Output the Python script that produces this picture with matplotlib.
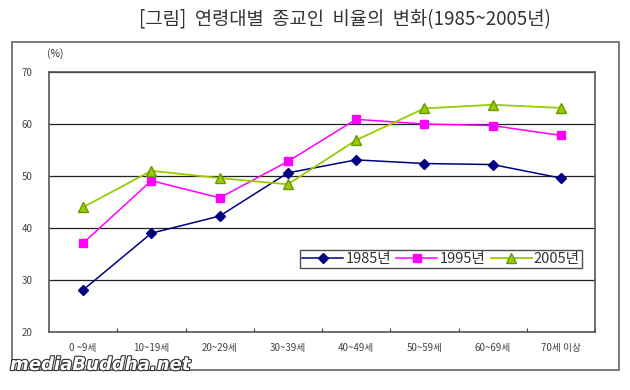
import numpy as np
import matplotlib.pyplot as plt
import matplotlib.patheffects as pe
from matplotlib.patches import Rectangle

plt.rcParams['font.family'] = ['Noto Sans CJK KR', 'DejaVu Sans']

# data
categories = ["0 ~9세", "10~19세", "20~29세", "30~39세", "40~49세", "50~59세", "60~69세", "70세 이상"]
y1985 = [28.1, 39.0, 42.3, 50.6, 53.1, 52.4, 52.2, 49.6]
y1995 = [37.1, 49.1, 45.8, 52.8, 60.9, 60.0, 59.7, 57.8]
y2005 = [44.0, 51.0, 49.6, 48.4, 56.9, 63.0, 63.7, 63.1]
series_labels = ["1985년", "1995년", "2005년"]
title = "[그림]  연령대별  종교인  비율의  변화(1985~2005년)"

W, H = 630, 390
fig = plt.figure(figsize=(W / 100, H / 100), dpi=100)

def fx(px):
    return px / W

def fy(py):
    return 1 - py / H

# outer chart frame
fig.patches.append(Rectangle((fx(12), fy(370)), fx(619) - fx(12), fy(42) - fy(370),
                             transform=fig.transFigure, fill=False,
                             edgecolor="#707070", linewidth=1.3))

fig.text(fx(345), fy(20), title, ha="center", va="center", fontsize=13.5, color="#333333")
fig.text(fx(55), fy(54), "(%)", ha="center", va="center", fontsize=7.5, color="#333333")

ax = fig.add_axes([fx(49), fy(332), fx(595) - fx(49), fy(72) - fy(332)])
x = np.arange(len(categories))

ax.plot(x, y1985, color="#000080", marker="D", markersize=5, linewidth=1.1,
        label=series_labels[0])
ax.plot(x, y1995, color="#ff00ff", marker="s", markersize=6.3, linewidth=1.1,
        label=series_labels[1])
ax.plot(x, y2005, color="#99cc00", marker="^", markersize=7.5, markeredgecolor="#669900",
        markerfacecolor="#99cc00", linewidth=1.3, label=series_labels[2])

ax.set_xlim(-0.5, len(categories) - 0.5)
ax.set_ylim(20, 70)
ax.set_yticks(range(20, 71, 10))
ax.yaxis.grid(True, color="#222222", linewidth=0.9)
ax.set_axisbelow(True)

ax.set_xticks(np.arange(len(categories)) + 0.5, minor=False)
ax.set_xticklabels([])
ax.set_xticks(x, minor=True)
ax.set_xticklabels(categories, minor=True)
ax.tick_params(axis="x", which="major", direction="in", length=3, color="#444444")
ax.tick_params(axis="x", which="minor", length=0, pad=8, labelsize=7, labelcolor="#444444")
ax.tick_params(axis="y", length=0, pad=12, labelsize=7, labelcolor="#444444")

for s in ax.spines.values():
    s.set_color("#555555")
    s.set_linewidth(1.2)

leg = ax.legend(loc="lower left", bbox_to_anchor=(0.46, 0.245, 0.516, 0.09), mode="expand",
                ncol=3, fontsize=10.5, frameon=True, fancybox=False, borderpad=0.15,
                handlelength=2.8, handletextpad=0.15, columnspacing=0.5, borderaxespad=0)
leg.get_frame().set_edgecolor("#222222")
leg.get_frame().set_linewidth(1.0)
for t in leg.get_texts():
    t.set_color("#333333")

# watermark
fig.text(fx(10), fy(365), "mediaBuddha.net", ha="left", va="center", fontsize=13,
         fontstyle="italic", fontweight="bold", color="white", family="DejaVu Sans",
         path_effects=[pe.withStroke(linewidth=1.6, foreground="#333333")])

fig.savefig("out.png", dpi=100)
